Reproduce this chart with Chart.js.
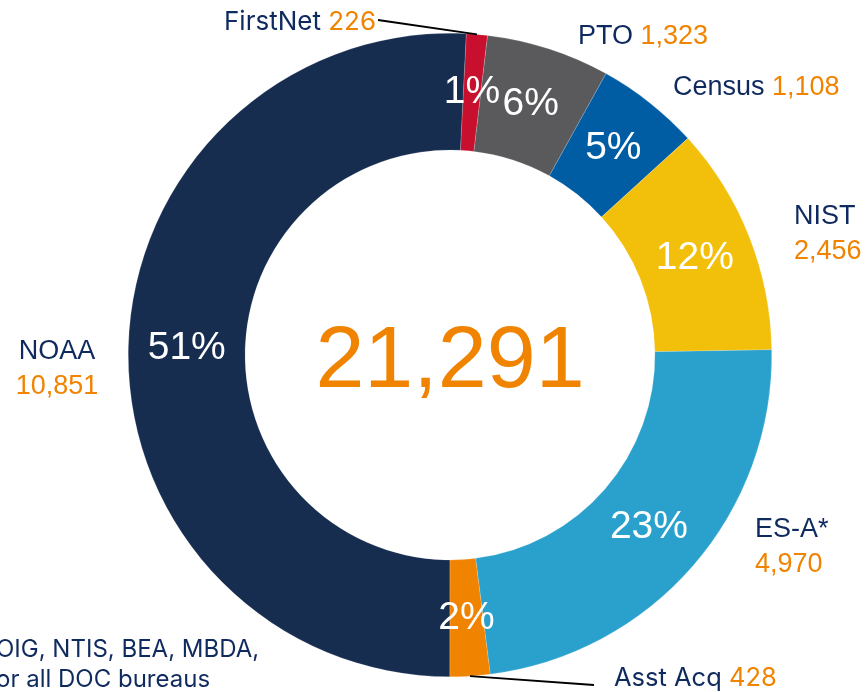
<!DOCTYPE html>
<html>
<head>
<meta charset="utf-8">
<script src="https://cdn.jsdelivr.net/npm/chart.js@4.4.1/dist/chart.umd.min.js"></script>
<style>
  html, body { margin: 0; padding: 0; background: #fff; }
  #wrap { width: 867px; height: 692px; position: relative; }
</style>
</head>
<body>
<div id="wrap"><canvas id="bureauChart" width="867" height="692"></canvas></div>
<script>
// data, clockwise from the top
const bureaus = ['FirstNet', 'PTO', 'Census', 'NIST', 'ES-A*', 'Asst Acq', 'NOAA'];
const headcount = [226, 1323, 1108, 2456, 4970, 428, 10851];
const totalHeadcount = 21291;
const footnoteLines = ['OIG, NTIS, BEA, MBDA,', 'or all DOC bureaus'];

const sliceColors = ['#C8102E', '#5A5A5C', '#005DA4', '#F2BF0A', '#2AA1CC', '#F08300', '#172D50'];
const navy = '#0F2A5E';
const orange = '#F08300';

// where each outside label goes: x, y, alignment, one or two lines, font
const labelLayout = [
  { x: 224, y: 22, align: 'left', stacked: false, font: 'Inter', size: 26, leader: [378, 20] },
  { x: 578, y: 37, align: 'left', stacked: false, font: 'Liberation Sans', size: 27 },
  { x: 673, y: 88, align: 'left', stacked: false, font: 'Liberation Sans', size: 27 },
  { x: 794, y: 217, align: 'left', stacked: true, font: 'Liberation Sans', size: 27 },
  { x: 755, y: 530, align: 'left', stacked: true, font: 'Liberation Sans', size: 27 },
  { x: 614, y: 678, align: 'left', stacked: false, font: 'Inter', size: 25.5, leader: [594, 685] },
  { x: 57, y: 352, align: 'center', stacked: true, font: 'Liberation Sans', size: 27 }
];

function fmt(n) {
  return n.toLocaleString('en-US');
}

Chart.register({
  id: 'bureauLabels',
  afterDatasetsDraw(chart) {
    const ctx = chart.ctx;
    const meta = chart.getDatasetMeta(0);
    ctx.save();

    // percent inside each slice
    ctx.fillStyle = '#fff';
    ctx.textAlign = 'center';
    ctx.textBaseline = 'middle';
    ctx.font = '39px "Liberation Sans", Arial';
    meta.data.forEach((arc, i) => {
      const p = arc.tooltipPosition();
      const pct = Math.round(headcount[i] / totalHeadcount * 100);
      ctx.fillText(pct + '%', p.x, p.y);
    });

    // leader lines
    ctx.strokeStyle = '#000';
    ctx.lineWidth = 2;
    meta.data.forEach((arc, i) => {
      const lay = labelLayout[i];
      if (!lay.leader) return;
      const mid = (arc.startAngle + arc.endAngle) / 2;
      ctx.beginPath();
      ctx.moveTo(arc.x + Math.cos(mid) * arc.outerRadius, arc.y + Math.sin(mid) * arc.outerRadius);
      ctx.lineTo(lay.leader[0], lay.leader[1]);
      ctx.stroke();
    });

    // outside names and values
    bureaus.forEach((name, i) => {
      const lay = labelLayout[i];
      const value = fmt(headcount[i]);
      ctx.font = `${lay.size}px "${lay.font}"`;
      ctx.textBaseline = 'middle';
      if (lay.stacked) {
        ctx.textAlign = lay.align;
        ctx.fillStyle = navy;
        ctx.fillText(name, lay.x, lay.y);
        ctx.fillStyle = orange;
        ctx.fillText(value, lay.x, lay.y + 35);
      } else {
        ctx.textAlign = 'left';
        const w = ctx.measureText(name + ' ').width;
        ctx.fillStyle = navy;
        ctx.fillText(name, lay.x, lay.y);
        ctx.fillStyle = orange;
        ctx.fillText(value, lay.x + w, lay.y);
      }
    });

    // total in the hole
    ctx.textAlign = 'center';
    ctx.textBaseline = 'middle';
    ctx.fillStyle = orange;
    ctx.font = '88px "Liberation Sans", Arial';
    ctx.fillText(fmt(totalHeadcount), meta.data[0].x, meta.data[0].y + 8);

    // footnote, cut at the left edge
    ctx.textAlign = 'left';
    ctx.textBaseline = 'alphabetic';
    ctx.fillStyle = navy;
    ctx.font = '24px "Inter"';
    ctx.fillText(footnoteLines[0], -4, 657);
    ctx.fillText(footnoteLines[1], -4, 687);

    ctx.restore();
  }
});

const bureauCtx = document.getElementById('bureauChart').getContext('2d');
const bureauChart = new Chart(bureauCtx, {
  type: 'doughnut',
  data: {
    labels: bureaus,
    datasets: [{
      data: headcount,
      backgroundColor: sliceColors,
      borderColor: 'rgba(255,255,255,0.35)',
      borderWidth: 0.5
    }]
  },
  options: {
    responsive: false,
    animation: false,
    cutout: '63.7%',
    rotation: 2.9,
    layout: {
      padding: { left: 128, right: 95, top: 33, bottom: 15 }
    },
    plugins: {
      legend: { display: false },
      tooltip: { enabled: false }
    }
  }
});
</script>
</body>
</html>
